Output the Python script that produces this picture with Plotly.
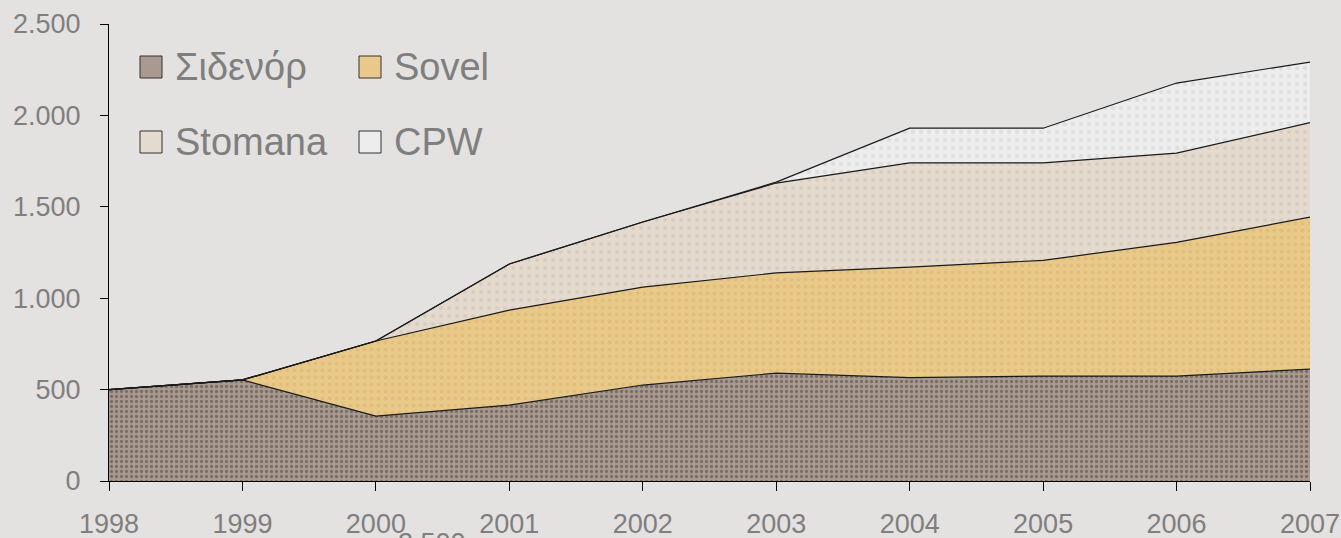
import plotly.graph_objects as go

# Data (tonnes, thousands)
years = [1998, 1999, 2000, 2001, 2002, 2003, 2004, 2005, 2006, 2007]
sidenor = [500, 553, 355, 415, 525, 590, 565, 574, 574, 612]
sovel = [0, 0, 411, 520, 536, 548, 605, 633, 731, 832]
stomana = [0, 0, 0, 252, 356, 492, 570, 533, 489, 516]
cpw = [0, 0, 0, 0, 0, 5, 190, 190, 383, 332]

series_names = ['Σιδενόρ', 'Sovel', 'Stomana', 'CPW']
y_ticks = [0, 500, 1000, 1500, 2000, 2500]
y_tick_labels = ['0', '500', '1.000', '1.500', '2.000', '2.500']

fills = ['#a89a90', '#e8c98a', '#e4dace', '#eeeded']
patterns = [
    dict(shape='.', fgcolor='#4e423a', bgcolor='#a89a90', size=5, solidity=0.35),
    dict(shape='.', fgcolor='#d9b36a', bgcolor='#e8c98a', size=7, solidity=0.25),
    dict(shape='.', fgcolor='#cfc0ae', bgcolor='#e4dace', size=8, solidity=0.2),
    dict(shape='.', fgcolor='#cfcfcf', bgcolor='#eeeded', size=8, solidity=0.25),
]

W, H = 1341, 538
PLOT_L, PLOT_R, PLOT_T, PLOT_B = 109, 1310, 24, 481  # plot area in pixels


def px_x(px):
    return (px - PLOT_L) / (PLOT_R - PLOT_L)


def px_y(py):
    return (PLOT_B - py) / (PLOT_B - PLOT_T)


fig = go.Figure()

for name, values, color, patt in zip(series_names, [sidenor, sovel, stomana, cpw], fills, patterns):
    fig.add_trace(go.Scatter(
        x=years,
        y=values,
        name=name,
        stackgroup='one',
        mode='lines',
        line=dict(color='#1a1a1a', width=1.2),
        fillcolor=color,
        fillpattern=patt,
        showlegend=False,
        hoverinfo='skip',
    ))

# custom legend: 2 x 2 grid of boxes and labels
legend_pos = [(140, 67), (359, 67), (140, 142), (359, 142)]
for name, color, (px, py) in zip(series_names, fills, legend_pos):
    fig.add_shape(
        type='rect', xref='paper', yref='paper',
        x0=px_x(px), x1=px_x(px + 22),
        y0=px_y(py + 11), y1=px_y(py - 11),
        fillcolor=color, line=dict(color='#333333', width=1),
    )
    fig.add_annotation(
        text=name, xref='paper', yref='paper',
        x=px_x(px + 33), y=px_y(py),
        xanchor='left', yanchor='middle', showarrow=False,
        font=dict(family='Liberation Sans, Arial', size=38, color='#7f7f7f'),
    )

# fragment of the next chart's label peeking in at the bottom
fig.add_annotation(
    text='2.500', xref='paper', yref='paper',
    x=px_x(432), y=px_y(526),
    xanchor='center', yanchor='top', showarrow=False,
    font=dict(family='Liberation Sans, Arial', size=27, color='#7f7f7f'),
)

fig.update_layout(
    width=W, height=H,
    margin=dict(l=PLOT_L, r=W - PLOT_R, t=PLOT_T, b=H - PLOT_B, autoexpand=False),
    paper_bgcolor='#e4e1e1',
    plot_bgcolor='rgba(0,0,0,0)',
    font=dict(family='Liberation Sans, Arial', size=27, color='#7f7f7f'),
    xaxis=dict(
        range=[1998, 2007], tickvals=years, ticktext=[str(y) for y in years],
        showgrid=False, zeroline=False, showline=True, linecolor='#000000', linewidth=1,
        ticks='outside', ticklen=9, tickcolor='#000000', ticklabelstandoff=10,
    ),
    yaxis=dict(
        range=[0, 2500], tickvals=y_ticks, ticktext=y_tick_labels,
        showgrid=False, zeroline=False, showline=True, linecolor='#000000', linewidth=1,
        ticks='outside', ticklen=8, tickcolor='#000000', ticklabelstandoff=14,
    ),
)

# drop the default body margin so the figure sits at the window's corner
fig.write_html(
    "out.html",
    config={'displayModeBar': False},
    post_script="document.body.style.margin='0';document.documentElement.style.overflow='hidden';",
)
